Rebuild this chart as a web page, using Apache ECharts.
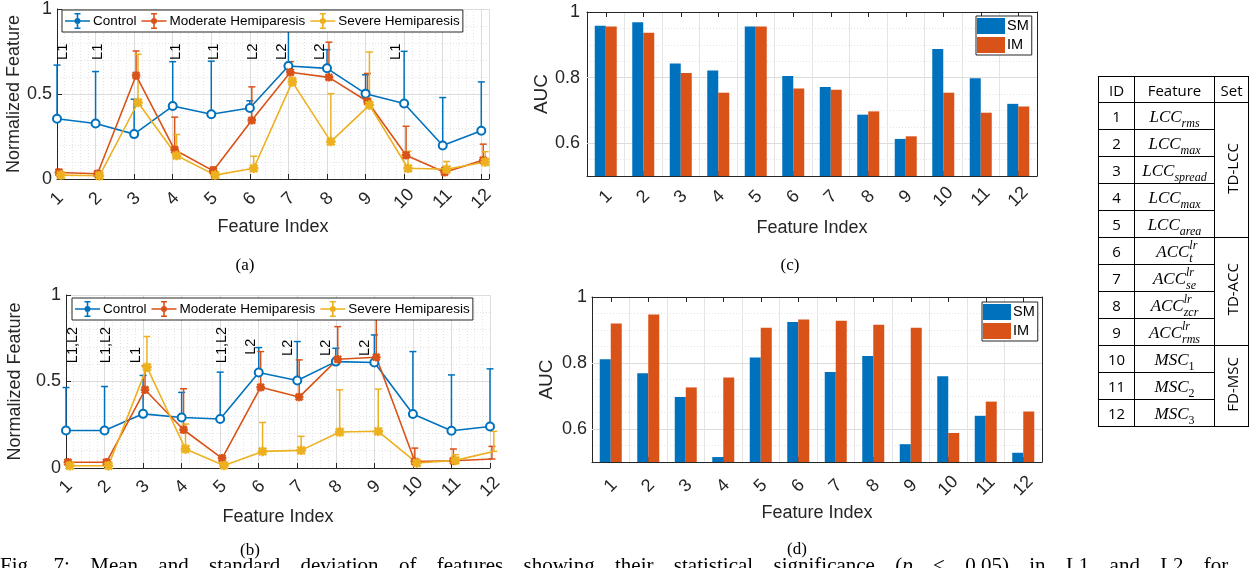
<!DOCTYPE html>
<html>
<head>
<meta charset="utf-8">
<script src="https://cdn.jsdelivr.net/npm/echarts@6/dist/echarts.min.js"></script>
<style>
html,body{margin:0;padding:0;background:#fff;overflow:hidden;}
#chart{position:absolute;left:0;top:0;width:1249px;height:568px;}
#tbl{position:absolute;left:1098px;top:76px;border-collapse:collapse;font-family:"Open Sans","Liberation Sans",sans-serif;font-size:15px;color:#000;table-layout:fixed;}
#tbl td,#tbl th{border:1px solid #000;padding:0;text-align:center;font-weight:normal;vertical-align:middle;line-height:20px;}
#tbl tr{height:27px;}
#tbl tr.hd{height:26px;}
.m{font-family:"Liberation Serif",serif;font-style:italic;font-size:17px;white-space:nowrap;}
.m sub{font-size:12px;vertical-align:-5px;line-height:0;}
.m sub.up{font-style:normal;}
.sp{display:inline-block;width:0;line-height:0;font-size:12px;position:relative;top:-8px;white-space:nowrap;}
.vt{display:inline-block;writing-mode:vertical-rl;transform:rotate(180deg);font-size:15px;line-height:18px;}
#cap{position:absolute;left:0;top:553px;width:1272px;font-family:"Liberation Serif",serif;font-size:21px;line-height:24px;text-align:justify;text-align-last:justify;color:#000;}
</style>
</head>
<body>
<div id="chart"></div>
<table id="tbl"></table>
<div id="cap">Fig. 7: Mean and standard deviation of features showing their statistical significance (<i>p</i> &lt; 0.05) in L1 and L2 for (a)</div>
<script>
// ---------- data ----------
const featureIndex = [1,2,3,4,5,6,7,8,9,10,11,12];
const tickLabels = ['1','2','3','4','5','6','7','8','9','10','11','12'];
const groupNames = ['Control','Moderate Hemiparesis','Severe Hemiparesis'];

// panel (a): means and upper ends of error bars
const aControl      = [0.354,0.326,0.264,0.429,0.381,0.418,0.665,0.651,0.502,0.444,0.197,0.284];
const aControlUp    = [0.670,0.632,0.469,0.690,0.693,0.460,0.880,0.761,0.613,0.751,0.479,0.571];
const aModerate     = [0.038,0.031,0.609,0.172,0.048,0.345,0.628,0.598,0.456,0.140,0.040,0.111];
const aModerateUp   = [0.057,0.044,0.753,0.364,0.071,0.542,0.690,0.805,0.621,0.310,0.067,0.205];
const aSevere       = [0.023,0.019,0.450,0.138,0.023,0.063,0.571,0.220,0.435,0.063,0.057,0.100];
const aSevereUp     = [0.034,0.025,0.734,0.262,0.029,0.134,0.598,0.502,0.747,0.163,0.103,0.161];
const aSigIdx  = [1,2,4,5,6,7,8,10];
const aSigText = ['L1','L1','L1','L1','L2','L2','L2','L1'];
const aSigY    = [0.70,0.70,0.70,0.70,0.70,0.70,0.70,0.70];

// panel (b)
const bControl      = [0.217,0.217,0.313,0.292,0.283,0.552,0.506,0.615,0.610,0.312,0.215,0.240];
const bControlUp    = [0.465,0.471,0.535,0.437,0.554,0.696,0.731,0.692,0.769,0.673,0.538,0.573];
const bModerate     = [0.033,0.033,0.452,0.221,0.056,0.467,0.410,0.629,0.640,0.038,0.042,0.052];
const bModerateUp   = [0.044,0.044,0.590,0.458,0.067,0.673,0.625,0.817,0.880,0.115,0.110,0.125];
const bSevere       = [0.013,0.013,0.583,0.110,0.015,0.096,0.102,0.208,0.212,0.029,0.044,0.096];
const bSevereUp     = [0.019,0.019,0.760,0.254,0.023,0.263,0.183,0.452,0.456,0.048,0.077,0.212];
const bSigIdx  = [1,2,3,5,6,7,8,9];
const bSigText = ['L1,L2','L1,L2','L1','L1,L2','L2','L2','L2','L2'];
const bSigY    = [0.606,0.606,0.606,0.606,0.654,0.648,0.648,0.648];

// panel (c) and (d): AUC
const cSM = [0.958,0.969,0.843,0.822,0.956,0.805,0.771,0.687,0.613,0.887,0.798,0.720];
const cIM = [0.956,0.937,0.814,0.754,0.956,0.767,0.763,0.697,0.621,0.754,0.693,0.712];
const dSM = [0.811,0.769,0.697,0.515,0.817,0.924,0.773,0.821,0.554,0.760,0.640,0.528];
const dIM = [0.920,0.947,0.726,0.756,0.907,0.932,0.928,0.916,0.907,0.588,0.683,0.653];
const aucTicks = [0.6,0.8,1];
const aucTickLabels = ['0.6','0.8','1'];

// table
const tableIds  = ['1','2','3','4','5','6','7','8','9','10','11','12'];
const tableBase = ['LCC','LCC','LCC','LCC','LCC','ACC','ACC','ACC','ACC','MSC','MSC','MSC'];
const tableSub  = ['rms','max','spread','max','area','t','se','zcr','rms','1','2','3'];
const tableSup  = ['','','','','','lr','lr','lr','lr','','',''];
const setNames  = ['TD-LCC','TD-ACC','FD-MSC'];
const setSpans  = [5,4,3];

// ---------- layout / style ----------
const FONT = '"Liberation Sans", Arial, sans-serif';
const C_BLUE = '#0072BD', C_ORANGE = '#D95319', C_YELLOW = '#EDB120';
const AX = '#262626';
const MAJOR = '#dcdcdc', MINOR = '#e4e4e4';
const xOffsets = [0, 0.05, 0.1];
const aLabelShift = [6, 2, 3, 3, 3, -7, -7, -8];
const bLabelShift = [7, 1, -7, 2, -8, -9, -10, -9];

// ---------- table build ----------
(function(){
  const t = document.getElementById('tbl');
  let h = '<colgroup><col style="width:36px"><col style="width:80px"><col style="width:34px"></colgroup>';
  h += '<tr class="hd"><th>ID</th><th>Feature</th><th>Set</th></tr>';
  let setPos = 0, setStart = 0;
  for (let i = 0; i < tableIds.length; i++) {
    const isDigit = /^[0-9]+$/.test(tableSub[i]);
    let feat = '<span class="m">' + tableBase[i];
    if (tableSup[i]) feat += '<span class="sp">' + tableSup[i] + '</span>';
    feat += '<sub' + (isDigit ? ' class="up"' : '') + '>' + tableSub[i] + '</sub></span>';
    let row = '<tr><td>' + tableIds[i] + '</td><td>' + feat + '</td>';
    if (i === setStart) {
      row += '<td rowspan="' + setSpans[setPos] + '"><span class="vt">' + setNames[setPos] + '</span></td>';
      setStart += setSpans[setPos];
      setPos++;
    }
    row += '</tr>';
    h += row;
  }
  t.innerHTML = h;
})();

// ---------- chart ----------
const chart = echarts.init(document.getElementById('chart'), null, {renderer: 'canvas'});

const ASTER = 'path://M4.3,0H5.7V10H4.3Z M0,4.3H10V5.7H0Z M0.5,1.5L1.5,0.5L9.5,8.5L8.5,9.5Z M8.5,0.5L9.5,1.5L1.5,9.5L0.5,8.5Z';
const LEG_ICON = 'path://M0,0L0.01,0L0,0.01Z M25,18L24.99,18L25,17.99Z M0,8.2H25V9.8H0Z M11.7,1H13.3V17H11.7Z M9.5,1H15.5V2.4H9.5Z M9.5,15.6H15.5V17H9.5Z M15.5,9A3,3 0 1,1 9.5,9A3,3 0 1,1 15.5,9Z';

function lineXAxis(gridIndex, max, margin, nameGap) {
  return {
    type: 'value', gridIndex: gridIndex, min: 1, max: max, interval: 1,
    axisLine: {show: true, onZero: false, lineStyle: {color: AX, width: 1}},
    axisTick: {show: true, inside: true, length: 5, lineStyle: {color: AX}},
    minorTick: {show: false, splitNumber: 5},
    splitLine: {show: true, lineStyle: {color: MAJOR, width: 1}},
    minorSplitLine: {show: true, lineStyle: {color: MINOR, width: 1, type: [1, 2]}},
    axisLabel: {
      rotate: 45, margin: margin, fontSize: 18, color: AX, fontFamily: FONT,
      align: 'center', verticalAlign: 'middle',
      formatter: function (v) {
        const r = Math.round(v);
        return Math.abs(v - r) < 1e-6 && r >= 1 && r <= tickLabels.length ? tickLabels[r - 1] : '';
      }
    },
    name: 'Feature Index', nameLocation: 'middle', nameGap: nameGap,
    nameTextStyle: {fontSize: 18, color: AX, fontFamily: FONT, verticalAlign: 'middle'}
  };
}
function lineYAxis(gridIndex, nameGap) {
  return {
    type: 'value', gridIndex: gridIndex, min: 0, max: 1, interval: 0.5,
    axisLine: {show: true, onZero: false, lineStyle: {color: AX, width: 1}},
    axisTick: {show: true, inside: true, length: 5, lineStyle: {color: AX}},
    minorTick: {show: false, splitNumber: 5},
    splitLine: {show: true, lineStyle: {color: MAJOR, width: 1}},
    minorSplitLine: {show: true, lineStyle: {color: MINOR, width: 1, type: [1, 2]}},
    axisLabel: {fontSize: 18, color: AX, fontFamily: FONT, margin: 5},
    name: 'Normalized Feature', nameLocation: 'middle', nameGap: nameGap,
    nameTextStyle: {fontSize: 18, color: AX, fontFamily: FONT, verticalAlign: 'middle'}
  };
}
function barXAxis(gridIndex, margin, nameGap) {
  return {
    type: 'category', gridIndex: gridIndex, data: tickLabels, boundaryGap: true,
    axisLine: {show: true, onZero: false, lineStyle: {color: AX, width: 1}},
    axisTick: {show: true, inside: true, alignWithLabel: true, length: 5, lineStyle: {color: AX}},
    splitLine: {show: true, lineStyle: {color: MINOR, width: 1}},
    axisLabel: {rotate: 45, margin: margin, fontSize: 18, color: AX, fontFamily: FONT, align: 'center', verticalAlign: 'middle', interval: 0},
    name: 'Feature Index', nameLocation: 'middle', nameGap: nameGap,
    nameTextStyle: {fontSize: 18, color: AX, fontFamily: FONT, verticalAlign: 'middle'}
  };
}
function barTopAxis(gridIndex) {
  return {
    type: 'category', gridIndex: gridIndex, position: 'top', data: tickLabels, boundaryGap: true,
    axisLine: {show: true, onZero: false, lineStyle: {color: AX, width: 1}},
    axisTick: {show: true, inside: true, alignWithLabel: true, length: 5, lineStyle: {color: AX}},
    splitLine: {show: false}, axisLabel: {show: false}
  };
}
function barYAxis(gridIndex, nameGap, margin) {
  return {
    type: 'value', gridIndex: gridIndex, min: 0.5, max: 1, interval: 0.05,
    axisLine: {show: true, onZero: false, lineStyle: {color: AX, width: 1}},
    axisTick: {show: false},
    splitLine: {show: true, lineStyle: {color: MINOR, width: 1, type: [1, 2]}},
    axisLabel: {
      fontSize: 18, color: AX, fontFamily: FONT, margin: margin,
      formatter: function (v) {
        for (let i = 0; i < aucTicks.length; i++) if (Math.abs(v - aucTicks[i]) < 1e-6) return aucTickLabels[i];
        return '';
      }
    },
    name: 'AUC', nameLocation: 'middle', nameGap: nameGap,
    nameTextStyle: {fontSize: 19, color: AX, fontFamily: FONT, verticalAlign: 'middle'}
  };
}
function barRightAxis(gridIndex) {
  return {
    type: 'value', gridIndex: gridIndex, position: 'right', min: 0.5, max: 1, interval: 0.05,
    axisLine: {show: true, onZero: false, lineStyle: {color: AX, width: 1}},
    axisTick: {show: false}, axisLabel: {show: false}, splitLine: {show: false}
  };
}

function errRender(color) {
  return function (params, api) {
    const x = api.value(0), m = api.value(1), u = api.value(2);
    const p0 = api.coord([x, m]), p1 = api.coord([x, u]);
    const hw = 3.5;
    const st = {stroke: color, lineWidth: 1.5, fill: null};
    return {type: 'group', children: [
      {type: 'line', shape: {x1: p0[0], y1: p0[1], x2: p1[0], y2: p1[1]}, style: st},
      {type: 'line', shape: {x1: p1[0] - hw, y1: p1[1], x2: p1[0] + hw, y2: p1[1]}, style: st},
      {type: 'line', shape: {x1: p0[0] - hw, y1: p0[1], x2: p0[0] + hw, y2: p0[1]}, style: st}
    ]};
  };
}
function labelRender(texts, shifts, size) {
  return function (params, api) {
    const p = api.coord([api.value(0), api.value(1)]);
    return {type: 'text', x: p[0] + shifts[params.dataIndex], y: p[1], rotation: Math.PI / 2,
      style: {text: texts[params.dataIndex], fill: '#000', font: size + 'px ' + FONT, align: 'left', verticalAlign: 'middle'}};
  };
}

const groupColors = [C_BLUE, C_ORANGE, C_YELLOW];
const groupSymbols = ['emptyCircle', ASTER, ASTER];
const groupSymbolSizes = [8, 7, 8];

function groupSeries(axisIdx, means, ups) {
  const out = [];
  for (let g = 0; g < 3; g++) {
    const pts = featureIndex.map((x, i) => [x + xOffsets[g], means[g][i]]);
    out.push({
      type: 'line', name: groupNames[g], xAxisIndex: axisIdx, yAxisIndex: axisIdx,
      data: pts, symbol: groupSymbols[g], symbolSize: groupSymbolSizes[g], showSymbol: true,
      lineStyle: {width: 1.6, color: groupColors[g]},
      itemStyle: {color: groupColors[g], borderColor: groupColors[g], borderWidth: 1.5},
      z: 2, animation: false, silent: true
    });
    out.push({
      type: 'custom', name: groupNames[g], xAxisIndex: axisIdx, yAxisIndex: axisIdx,
      data: featureIndex.map((x, i) => [x + xOffsets[g], means[g][i], ups[g][i]]),
      encode: {x: 0, y: [1, 2]}, renderItem: errRender(groupColors[g]),
      itemStyle: {color: groupColors[g]}, z: 2, animation: false, silent: true
    });
  }
  return out;
}

function lineLegend(left, top) {
  return {
    left: left, top: top, orient: 'horizontal',
    data: groupNames.map(n => ({name: n, icon: LEG_ICON})),
    itemWidth: 25, itemHeight: 18, itemGap: 5,
    padding: [2, 3, 2, 3],
    borderColor: AX, borderWidth: 1, backgroundColor: '#fff',
    itemStyle: {borderWidth: 0},
    textStyle: {fontSize: 13.5, color: '#000', fontFamily: FONT, padding: [0, 0, 0, -2]},
    selectedMode: false
  };
}
function barLegend(left, top) {
  return {
    left: left, top: top, orient: 'vertical',
    data: [{name: 'SM', icon: 'rect'}, {name: 'IM', icon: 'rect'}],
    itemWidth: 28, itemHeight: 16, itemGap: 3,
    padding: [2, 3, 2, 1],
    borderColor: AX, borderWidth: 1, backgroundColor: '#fff',
    itemStyle: {borderWidth: 0},
    textStyle: {fontSize: 14.5, color: '#000', fontFamily: FONT, padding: [0, 0, 0, -3]},
    selectedMode: false
  };
}
function barSeries(axisIdx, sm, im) {
  return [
    {type: 'bar', name: 'SM', xAxisIndex: axisIdx, yAxisIndex: axisIdx, data: sm, barWidth: 11, barGap: '0%',
     itemStyle: {color: C_BLUE}, z: 2, animation: false, silent: true,
     markLine: {silent: true, z: 1, symbol: 'none', label: {show: false}, animation: false,
       lineStyle: {color: MAJOR, type: 'solid', width: 1},
       data: aucTicks.slice(0, 2).map(v => ({yAxis: v}))}},
    {type: 'bar', name: 'IM', xAxisIndex: axisIdx, yAxisIndex: axisIdx, data: im, barWidth: 11, barGap: '0%',
     itemStyle: {color: C_ORANGE}, z: 2, animation: false, silent: true}
  ];
}

const option = {
  animation: false,
  textStyle: {fontFamily: FONT},
  grid: [
    {left: 57, top: 6, width: 432, height: 173, show: false},
    {left: 66, top: 295, width: 424, height: 173, show: false},
    {left: 587, top: 12, width: 450, height: 164, show: false},
    {left: 592, top: 297, width: 450, height: 165, show: false}
  ],
  xAxis: [
    lineXAxis(0, 12.2, 20, 48),
    lineXAxis(1, 12, 19, 49),
    barXAxis(2, 21, 52),
    barXAxis(3, 24, 51),
    barTopAxis(2),
    barTopAxis(3)
  ],
  yAxis: [
    lineYAxis(0, 42),
    lineYAxis(1, 51),
    barYAxis(2, 43, 7),
    barYAxis(3, 45, 5),
    barRightAxis(2),
    barRightAxis(3)
  ],
  legend: [
    lineLegend(62, 10),
    lineLegend(72, 298),
    barLegend(976, 16),
    barLegend(982, 302)
  ],
  series: [].concat(
    groupSeries(0, [aControl, aModerate, aSevere], [aControlUp, aModerateUp, aSevereUp]),
    [{type: 'custom', xAxisIndex: 0, yAxisIndex: 0, data: aSigIdx.map((x, i) => [x, aSigY[i]]),
      encode: {x: 0, y: 1}, renderItem: labelRender(aSigText, aLabelShift, 15), z: 3, silent: true}],
    groupSeries(1, [bControl, bModerate, bSevere], [bControlUp, bModerateUp, bSevereUp]),
    [{type: 'custom', xAxisIndex: 1, yAxisIndex: 1, data: bSigIdx.map((x, i) => [x, bSigY[i]]),
      encode: {x: 0, y: 1}, renderItem: labelRender(bSigText, bLabelShift, 14.5), z: 3, silent: true}],
    barSeries(2, cSM, cIM),
    barSeries(3, dSM, dIM)
  ),
  graphic: [
    {type: 'text', x: 245, y: 266, style: {text: '(a)', font: '17px "Liberation Serif"', fill: '#000', align: 'center', verticalAlign: 'middle'}},
    {type: 'text', x: 250, y: 551, style: {text: '(b)', font: '17px "Liberation Serif"', fill: '#000', align: 'center', verticalAlign: 'middle'}},
    {type: 'text', x: 790, y: 266, style: {text: '(c)', font: '17px "Liberation Serif"', fill: '#000', align: 'center', verticalAlign: 'middle'}},
    {type: 'text', x: 797, y: 550, style: {text: '(d)', font: '17px "Liberation Serif"', fill: '#000', align: 'center', verticalAlign: 'middle'}}
  ]
};
chart.setOption(option);
</script>
</body>
</html>
